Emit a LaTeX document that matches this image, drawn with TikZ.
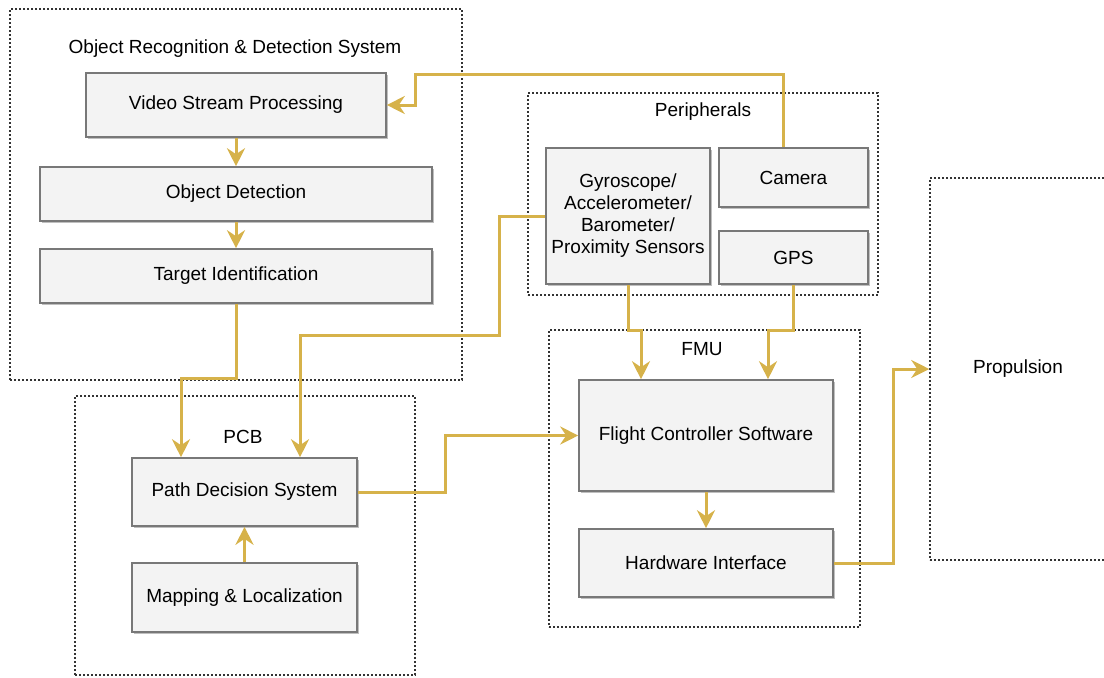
\documentclass[tikz,border=0pt]{standalone}
\usepackage{fontspec}
\setmainfont{Liberation Sans}
\usetikzlibrary{arrows.meta,shadows}

\definecolor{flowc}{RGB}{214,178,74}
\definecolor{boxfill}{RGB}{243,243,243}
\definecolor{boxline}{RGB}{120,120,120}

\begin{document}
\begin{tikzpicture}[
x=0.5pt, y=-0.5pt,
font=\fontsize{9.5pt}{11pt}\selectfont,
group/.style={draw=black!80, line width=0.75pt, dash pattern=on 0.9pt off 1.1pt,
    inner sep=0pt, anchor=center},
block/.style={draw=boxline, fill=boxfill, line width=0.8pt, align=center,
    inner sep=0pt, anchor=center,
    drop shadow={shadow xshift=1pt, shadow yshift=-1.2pt, opacity=0.25, fill=black}},
title/.style={inner sep=0pt, anchor=center},
flow/.style={draw=flowc, line width=1.5pt, -{Stealth[length=9pt, width=9pt, inset=3pt]}},
]
\useasboundingbox (0,0) rectangle (1104,677);

% dotted groups
\node[group, minimum width=226pt, minimum height=185.5pt] (ords) at (236,194.5) {};
\node[group, minimum width=175pt, minimum height=101pt] (periph) at (703,194) {};
\node[group, minimum width=170pt, minimum height=139.5pt] (pcb) at (245,535.5) {};
\node[group, minimum width=155.5pt, minimum height=148.5pt] (fmu) at (704.5,478.5) {};
\node[group, minimum width=88pt, minimum height=191pt] (prop) at (1018,369) {Propulsion};

\node[title] (ordsT) at (235,49) {Object Recognition \& Detection System};
\node[title] (periphT) at (703,112) {Peripherals};
\node[title] (pcbT) at (243,437) {PCB};
\node[title] (fmuT) at (702,349) {FMU};

% blocks
\node[block, minimum width=150pt, minimum height=32pt] (vsp) at (236,105) {Video Stream Processing};
\node[block, minimum width=196pt, minimum height=27pt] (od) at (236,194) {Object Detection};
\node[block, minimum width=196pt, minimum height=27pt] (ti) at (236,276) {Target Identification};

\node[block, minimum width=82pt, minimum height=68pt] (gyro) at (628,216)
    {Gyroscope/\\Accelerometer/\\Barometer/\\Proximity Sensors};
\node[block, minimum width=74.5pt, minimum height=29.5pt] (cam) at (793.5,177.5) {Camera};
\node[block, minimum width=74.5pt, minimum height=26.5pt] (gps) at (793.5,257.5) {GPS};

\node[block, minimum width=112.5pt, minimum height=34pt] (pds) at (244.5,492) {Path Decision System};
\node[block, minimum width=112.5pt, minimum height=34.5pt] (map) at (244.5,597.5) {Mapping \& Localization};

\node[block, minimum width=127pt, minimum height=55.5pt] (fcs) at (706,435.5) {Flight Controller Software};
\node[block, minimum width=127pt, minimum height=34pt] (hwi) at (706,563) {Hardware Interface};

% connectors
\draw[flow] ([xshift=-5.25pt]cam.north) |- (415,74) |- (vsp.east);
\draw[flow] (vsp.south) -- (od.north);
\draw[flow] (od.south) -- (ti.north);
\draw[flow] (ti.south) -- ++(0,75) -| ([xshift=-31.75pt]pds.north);
\draw[flow] (gyro.west) -- ++(-46,0) -- ++(0,119) -| ([xshift=27.75pt]pds.north);
\draw[flow] (gyro.south) -- ++(0,46) -| ([xshift=-32.5pt]fcs.north);
\draw[flow] (gps.south) -- ++(0,46) -| ([xshift=31pt]fcs.north);
\draw[flow] (map.north) -- (pds.south);
\draw[flow] (pds.east) -- ++(88,0) |- (fcs.west);
\draw[flow] (fcs.south) -- (hwi.north);
\draw[flow] (hwi.east) -- ++(60,0) |- (prop.west);
%\draw[flow] (prop.south) -- ++(0,40);

\end{tikzpicture}
\end{document}
